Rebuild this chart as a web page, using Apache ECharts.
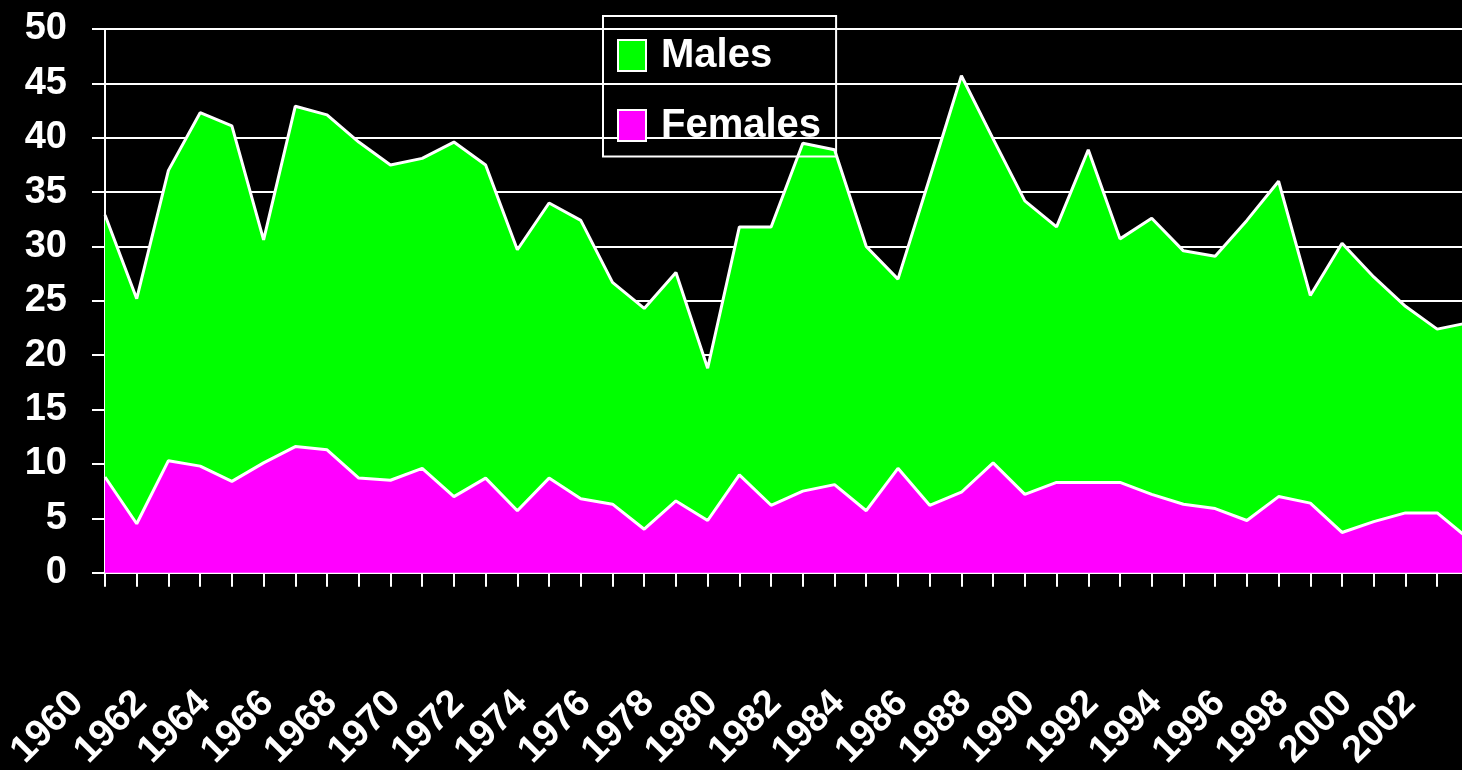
<!DOCTYPE html>
<html>
<head>
<meta charset="utf-8">
<script src="https://cdn.jsdelivr.net/npm/echarts@6/dist/echarts.min.js"></script>
<style>
html, body { margin: 0; padding: 0; background: #000; overflow: hidden; width: 1462px; height: 770px; }
#chart { width: 1500px; height: 770px; }
</style>
</head>
<body>
<div id="chart"></div>
<script>
const years = ['1960','1961','1962','1963','1964','1965','1966','1967','1968','1969',
  '1970','1971','1972','1973','1974','1975','1976','1977','1978','1979',
  '1980','1981','1982','1983','1984','1985','1986','1987','1988','1989',
  '1990','1991','1992','1993','1994','1995','1996','1997','1998','1999',
  '2000','2001','2002','2003'];
const females = [8.8,4.5,10.3,9.8,8.4,10.1,11.6,11.3,8.7,8.5,
  9.6,7.0,8.7,5.7,8.7,6.8,6.3,4.0,6.6,4.8,
  9.0,6.2,7.5,8.1,5.7,9.6,6.2,7.4,10.1,7.2,
  8.3,8.3,8.3,7.2,6.3,5.9,4.8,7.0,6.4,3.7,
  4.7,5.5,5.5,3.1];
const males = [24.1,20.7,26.7,32.5,32.7,20.5,31.3,30.8,30.9,29.0,
  28.5,32.6,28.8,24.0,25.3,25.6,20.4,20.3,21.0,14.0,
  22.8,25.6,32.0,30.8,24.3,17.4,30.1,38.3,29.8,27.0,
  23.5,30.6,22.4,25.4,23.3,23.2,27.6,29.0,19.1,26.6,
  22.5,19.0,16.9,19.9];
const yMin = 0, yMax = 50, yStep = 5;

const FONT = "'Liberation Sans', Arial, sans-serif";
const chart = echarts.init(document.getElementById('chart'), null, { renderer: 'canvas' });
chart.setOption({
  backgroundColor: '#000',
  animation: false,
  grid: { left: 105, right: 31.1, top: 29, bottom: 197.3, containLabel: false, outerBoundsMode: 'none' },
  legend: {
    orient: 'vertical',
    left: 603, top: 16,
    padding: [19.5, 15, 11, 14],
    borderColor: '#fff', borderWidth: 2,
    itemWidth: 28, itemHeight: 31, itemGap: 30,
    icon: 'rect',
    itemStyle: { borderColor: '#fff', borderWidth: 2 },
    textStyle: { color: '#fff', fontSize: 40, fontWeight: 'bold', fontFamily: FONT, padding: [0, 0, 0, 10] },
    data: ['Males', 'Females']
  },
  xAxis: {
    type: 'category',
    data: years,
    boundaryGap: false,
    axisLine: { lineStyle: { color: '#fff', width: 3 } },
    axisTick: { show: true, interval: 0, length: 14, lineStyle: { color: '#fff', width: 2 } },
    axisLabel: {
      interval: 1, rotate: 45, margin: 97, padding: [0, 39, 0, 0],
      color: '#fff', fontSize: 38, fontWeight: 'bold', fontFamily: FONT
    },
    splitLine: { show: false }
  },
  yAxis: {
    type: 'value',
    min: yMin, max: yMax, interval: yStep,
    axisLine: { show: true, lineStyle: { color: '#fff', width: 2 } },
    axisTick: { show: true, length: 13, lineStyle: { color: '#fff', width: 2 } },
    axisLabel: { margin: 38, color: '#fff', fontSize: 38, fontWeight: 'bold', fontFamily: FONT },
    splitLine: { show: true, lineStyle: { color: '#fff', width: 2 } }
  },
  series: [
    {
      name: 'Females', type: 'line', stack: 'total', data: females,
      symbol: 'none', color: '#ff00ff',
      itemStyle: { color: '#ff00ff' },
      lineStyle: { color: '#fff', width: 3 },
      areaStyle: { color: '#ff00ff', opacity: 1 }
    },
    {
      name: 'Males', type: 'line', stack: 'total', data: males,
      symbol: 'none', color: '#00ff00',
      itemStyle: { color: '#00ff00' },
      lineStyle: { color: '#fff', width: 3 },
      areaStyle: { color: '#00ff00', opacity: 1 }
    }
  ]
});
</script>
</body>
</html>
